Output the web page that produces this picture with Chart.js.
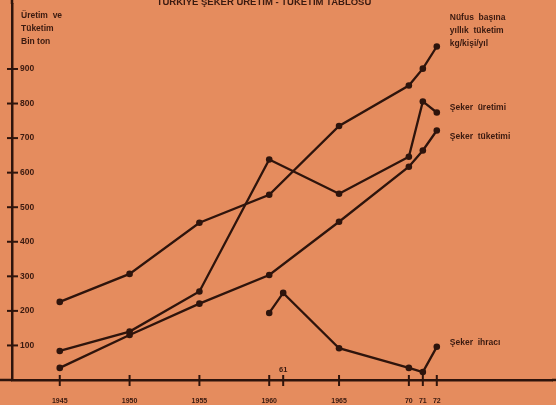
<!DOCTYPE html>
<html lang="tr">
<head>
<meta charset="utf-8">
<title>Türkiye Şeker Üretim - Tüketim Tablosu</title>
<script src="https://cdn.jsdelivr.net/npm/chart.js@4.4.0/dist/chart.umd.min.js"></script>
<style>
  html, body { margin: 0; padding: 0; background: #e58c5e; overflow: hidden; }
  #grafik { display: block; }
</style>
</head>
<body>
<canvas id="grafik" width="556" height="405"></canvas>
<script>
// Veriler (bin ton)
var yillar = [1945, 1950, 1955, 1960, 1965, 1970, 1971, 1972];
var nufusBasina = [226, 307, 455, 536, 735, 852, 901, 965];
var sekerUretimi = [84, 140, 256, 638, 539, 646, 806, 774];
var sekerTuketimi = [35, 130, 221, 304, 458, 617, 664, 722];
var ihracYillari = [1960, 1961, 1965, 1970, 1971, 1972];
var sekerIhraci = [194, 252, 92, 35, 23, 96];

// Eksen etiketleri
var xTickYillari = [1945, 1950, 1955, 1960, 1961, 1965, 1970, 1971, 1972];
var xTickEtiketleri = ['1945', '1950', '1955', '1960', '61', '1965', '70', '71', '72'];
var yTickDegerleri = [100, 200, 300, 400, 500, 600, 700, 800, 900];

// Yazılar
var baslik = 'TÜRKİYE ŞEKER ÜRETİM - TÜKETİM TABLOSU';
var eksenBasligi = ['Üretim  ve', 'Tüketim', 'Bin ton'];
var seriEtiketleri = [
    ['Nüfus  başına', 'yıllık  tüketim', 'kg/kişi/yıl'],
    ['Şeker  üretimi'],
    ['Şeker  tüketimi'],
    ['Şeker  ihracı']
];

var zemin = '#e58c5e';
var koyu = '#2e140c';
var yaziRengi = '#3a1a10';
var FONT = '"Liberation Sans", Arial, sans-serif';

// Etiketlerin son noktaya göre kayması
var etiketKaymasi = [[13, -29], [13, -5], [13, 6], [13, -4]];

function noktalar(xs, ys) {
    return xs.map(function (x, i) { return {x: x, y: ys[i]}; });
}

function seri(veri) {
    return {
        data: veri,
        borderColor: koyu,
        borderWidth: 2.3,
        pointRadius: 3.3,
        pointBackgroundColor: koyu,
        pointBorderColor: koyu,
        pointBorderWidth: 0,
        tension: 0,
        fill: false
    };
}

// Arka plan, tik işaretleri ve yazılar
var cizimEklentisi = {
    id: 'cizim',
    beforeDraw: function (chart) {
        var ctx = chart.ctx;
        ctx.save();
        ctx.fillStyle = zemin;
        ctx.fillRect(0, 0, chart.width, chart.height);
        ctx.restore();
    },
    afterDraw: function (chart) {
        var ctx = chart.ctx;
        var area = chart.chartArea;
        var xs = chart.scales.x;
        var ys = chart.scales.y;
        ctx.save();
        ctx.strokeStyle = koyu;
        ctx.fillStyle = yaziRengi;

        // eksen çizgilerini kenarlara uzat
        ctx.lineWidth = 2.5;
        ctx.beginPath();
        ctx.moveTo(0, area.bottom);
        ctx.lineTo(area.left, area.bottom);
        ctx.moveTo(area.right, area.bottom);
        ctx.lineTo(chart.width, area.bottom);
        ctx.moveTo(area.left, 0);
        ctx.lineTo(area.left, area.top);
        ctx.stroke();

        // eksenleri kesen tikler
        ctx.lineWidth = 2;
        xTickYillari.forEach(function (v) {
            var px = xs.getPixelForValue(v);
            ctx.beginPath();
            ctx.moveTo(px, area.bottom - 5);
            ctx.lineTo(px, area.bottom + 6);
            ctx.stroke();
        });
        yTickDegerleri.forEach(function (v) {
            var py = ys.getPixelForValue(v);
            ctx.beginPath();
            ctx.moveTo(area.left - 5, py);
            ctx.lineTo(area.left + 6, py);
            ctx.stroke();
        });

        // "61" etiketi eksenin üstünde
        ctx.font = 'bold 7.5px ' + FONT;
        ctx.textAlign = 'center';
        ctx.textBaseline = 'middle';
        ctx.fillText(xTickEtiketleri[4], xs.getPixelForValue(xTickYillari[4]), area.bottom - 10);

        // başlık
        ctx.font = 'bold 9.5px ' + FONT;
        ctx.fillText(baslik, 264, 2);

        // eksen başlığı
        ctx.textAlign = 'left';
        ctx.font = 'bold 8.5px ' + FONT;
        eksenBasligi.forEach(function (s, i) {
            ctx.fillText(s, 21, 16 + i * 13);
        });

        // seri etiketleri
        ctx.font = 'bold 8.5px ' + FONT;
        chart.data.datasets.forEach(function (ds, i) {
            var meta = chart.getDatasetMeta(i);
            var son = meta.data[meta.data.length - 1];
            var k = etiketKaymasi[i];
            seriEtiketleri[i].forEach(function (s, j) {
                ctx.fillText(s, son.x + k[0], son.y + k[1] + j * 13);
            });
        });
        ctx.restore();
    }
};

var grafik = new Chart(document.getElementById('grafik').getContext('2d'), {
    type: 'line',
    data: {
        datasets: [
            seri(noktalar(yillar, nufusBasina)),
            seri(noktalar(yillar, sekerUretimi)),
            seri(noktalar(yillar, sekerTuketimi)),
            seri(noktalar(ihracYillari, sekerIhraci))
        ]
    },
    options: {
        responsive: false,
        animation: false,
        layout: { padding: 0 },
        plugins: {
            legend: { display: false },
            title: { display: false },
            tooltip: { enabled: false }
        },
        scales: {
            x: {
                type: 'linear',
                min: 1941.58,
                max: 1980.25,
                afterBuildTicks: function (scale) {
                    scale.ticks = xTickYillari.map(function (v) { return {value: v}; });
                },
                afterFit: function (scale) {
                    scale.height = 25;
                    scale.paddingLeft = 0;
                    scale.paddingRight = 0;
                },
                grid: { display: false },
                border: { display: true, color: koyu, width: 2.5 },
                ticks: {
                    autoSkip: false,
                    maxRotation: 0,
                    padding: 9,
                    color: yaziRengi,
                    font: { family: FONT, size: 7, weight: 'bold' },
                    callback: function (v) {
                        var i = xTickYillari.indexOf(v);
                        if (i < 0 || v === 1961) return '';
                        return xTickEtiketleri[i];
                    }
                }
            },
            y: {
                type: 'linear',
                min: 0,
                max: 1088,
                afterFit: function (scale) {
                    scale.width = 12;
                    scale.paddingTop = 0;
                    scale.paddingBottom = 0;
                },
                grid: { display: false },
                border: { display: true, color: koyu, width: 2.5 },
                ticks: {
                    stepSize: 100,
                    mirror: true,
                    padding: 8,
                    color: yaziRengi,
                    font: { family: FONT, size: 8.5, weight: 'bold' },
                    callback: function (v) {
                        return yTickDegerleri.indexOf(v) >= 0 ? String(v) : '';
                    }
                }
            }
        }
    },
    plugins: [cizimEklentisi]
});
</script>
</body>
</html>
